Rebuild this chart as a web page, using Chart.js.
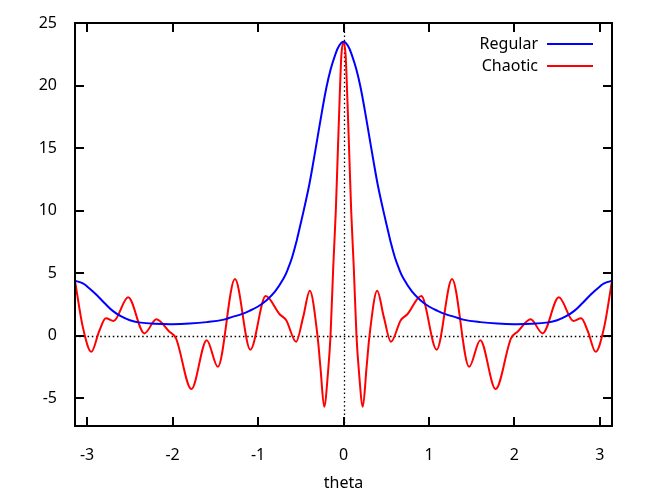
<!DOCTYPE html>
<html>
<head>
<meta charset="utf-8">
<script src="https://cdn.jsdelivr.net/npm/chart.js@4.4.0/dist/chart.umd.min.js"></script>
<style>
  html, body { margin: 0; padding: 0; background: #fff; }
  canvas { display: block; }
</style>
</head>
<body>
<canvas id="myChart" width="664" height="498"></canvas>
<script>
// Valores
var regularTheta = [-3.1416, -3.05, -3.0, -2.9, -2.8, -2.7, -2.6, -2.5, -2.4, -2.2, -2.0, -1.8, -1.6, -1.4, -1.3, -1.2, -1.1, -1.0, -0.9, -0.8, -0.7, -0.65, -0.6, -0.55, -0.5, -0.45, -0.4, -0.35, -0.3, -0.25, -0.2, -0.15, -0.1, -0.05, 0,
                    0.05, 0.1, 0.15, 0.2, 0.25, 0.3, 0.35, 0.4, 0.45, 0.5, 0.55, 0.6, 0.65, 0.7, 0.8, 0.9, 1.0, 1.1, 1.2, 1.3, 1.4, 1.6, 1.8, 2.0, 2.2, 2.4, 2.5, 2.6, 2.7, 2.8, 2.9, 3.0, 3.05, 3.1416];
var regularValue = [4.4, 4.2, 3.95, 3.35, 2.65, 2.0, 1.55, 1.25, 1.08, 0.96, 0.93, 0.98, 1.1, 1.3, 1.52, 1.72, 2.0, 2.35, 2.85, 3.55, 4.6, 5.35, 6.3, 7.55, 9.0, 10.5, 12.1, 14.0, 16.0, 18.0, 19.85, 21.3, 22.4, 23.2, 23.5,
                    23.2, 22.4, 21.3, 19.85, 18.0, 16.0, 14.0, 12.1, 10.5, 9.0, 7.55, 6.3, 5.35, 4.6, 3.55, 2.85, 2.35, 2.0, 1.72, 1.52, 1.3, 1.1, 0.98, 0.93, 0.96, 1.08, 1.25, 1.55, 2.0, 2.65, 3.35, 3.95, 4.2, 4.4];

var chaoticTheta = [-3.1416, -3.05, -2.95, -2.86, -2.78, -2.69, -2.52, -2.33, -2.19, -2.04, -1.96, -1.78, -1.6, -1.47, -1.27, -1.09, -0.91, -0.75, -0.67, -0.555, -0.472, -0.394, -0.304, -0.27, -0.226, -0.18, -0.152, -0.12, -0.09, -0.065, -0.045, -0.025, 0,
                    0.025, 0.045, 0.065, 0.09, 0.12, 0.152, 0.18, 0.226, 0.27, 0.304, 0.394, 0.472, 0.555, 0.67, 0.75, 0.91, 1.09, 1.27, 1.47, 1.6, 1.78, 1.96, 2.04, 2.19, 2.33, 2.52, 2.69, 2.78, 2.86, 2.95, 3.05, 3.1416];
var chaoticValue = [4.4, 0.7, -1.27, 0.35, 1.4, 1.18, 3.08, 0.2, 1.32, 0.35, -0.2, -4.25, -0.34, -2.47, 4.54, -1.1, 3.18, 1.75, 1.25, -0.47, 1.5, 3.6, 0, -2.5, -5.66, -2.8, 0, 5.5, 10.0, 15.0, 19.0, 22.4, 23.5,
                    22.4, 19.0, 15.0, 10.0, 5.5, 0, -2.8, -5.66, -2.5, 0, 3.6, 1.5, -0.47, 1.25, 1.75, 3.18, -1.1, 4.54, -2.47, -0.34, -4.25, -0.2, 0.35, 1.32, 0.2, 3.08, 1.18, 1.4, 0.35, -1.27, 0.7, 4.4];

var xTicks = [-3, -2, -1, 0, 1, 2, 3];
var yTicks = [-5, 0, 5, 10, 15, 20, 25];

var FONT = '"Noto Sans", "Open Sans", sans-serif';

function pontos(xs, ys) {
  return xs.map(function (x, i) { return { x: x, y: ys[i] }; });
}

// Moldura estilo gnuplot: borda, ticks para dentro e eixos zero pontilhados
var moldura = {
  id: 'moldura',
  beforeDatasetsDraw: function (chart) {
    var ctx = chart.ctx, a = chart.chartArea;
    var sx = chart.scales.x, sy = chart.scales.y;
    ctx.save();
    ctx.strokeStyle = '#000';
    ctx.lineWidth = 1.3;
    ctx.setLineDash([1.5, 2.7]);
    var y0 = Math.round(sy.getPixelForValue(0)) + 0.5;
    var x0 = Math.round(sx.getPixelForValue(0)) + 0.5;
    ctx.beginPath();
    ctx.moveTo(a.left, y0); ctx.lineTo(a.right, y0);
    ctx.moveTo(x0, a.top); ctx.lineTo(x0, a.bottom);
    ctx.stroke();
    ctx.restore();
  },
  afterDatasetsDraw: function (chart) {
    var ctx = chart.ctx, a = chart.chartArea;
    var sx = chart.scales.x, sy = chart.scales.y;
    var len = 9;
    ctx.save();
    ctx.strokeStyle = '#000';
    ctx.lineWidth = 2;
    ctx.beginPath();
    xTicks.forEach(function (v) {
      var px = Math.round(sx.getPixelForValue(v));
      ctx.moveTo(px, a.bottom); ctx.lineTo(px, a.bottom - len);
      ctx.moveTo(px, a.top); ctx.lineTo(px, a.top + len);
    });
    yTicks.forEach(function (v) {
      var py = Math.round(sy.getPixelForValue(v));
      ctx.moveTo(a.left, py); ctx.lineTo(a.left + len, py);
      ctx.moveTo(a.right, py); ctx.lineTo(a.right - len, py);
    });
    ctx.stroke();
    ctx.strokeRect(Math.round(a.left), Math.round(a.top), Math.round(a.right - a.left), Math.round(a.bottom - a.top));

    // Legenda no canto superior direito
    ctx.font = '16px ' + FONT;
    ctx.textAlign = 'right';
    ctx.textBaseline = 'middle';
    chart.data.datasets.forEach(function (ds, i) {
      var ly = a.top + 21 + i * 22;
      ctx.fillStyle = '#000';
      ctx.fillText(ds.label, a.right - 74, ly);
      ctx.strokeStyle = ds.borderColor;
      ctx.lineWidth = 2;
      ctx.beginPath();
      ctx.moveTo(a.right - 65, ly); ctx.lineTo(a.right - 19, ly);
      ctx.stroke();
    });
    ctx.restore();
  }
};

var ctx = document.getElementById('myChart');
var grafico = new Chart(ctx, {
  type: 'line',
  data: {
    datasets: [
      {
        label: 'Regular',
        data: pontos(regularTheta, regularValue),
        borderColor: '#0000ff',
        borderWidth: 2,
        pointRadius: 0,
        fill: false,
        tension: 0.4
      },
      {
        label: 'Chaotic',
        data: pontos(chaoticTheta, chaoticValue),
        borderColor: '#ff0000',
        borderWidth: 2,
        pointRadius: 0,
        fill: false,
        cubicInterpolationMode: 'monotone'
      }
    ]
  },
  options: {
    responsive: false,
    animation: false,
    devicePixelRatio: 1,
    layout: { padding: { top: 23, right: 52, left: 0, bottom: 0 } },
    plugins: {
      legend: { display: false },
      tooltip: { enabled: false }
    },
    scales: {
      x: {
        type: 'linear',
        min: -Math.PI,
        max: Math.PI,
        grid: { display: false },
        border: { display: false },
        afterBuildTicks: function (scale) {
          scale.ticks = xTicks.map(function (v) { return { value: v }; });
        },
        afterFit: function (scale) { scale.height = 72; },
        ticks: {
          color: '#000',
          padding: 12,
          maxRotation: 0,
          font: { family: FONT, size: 16 }
        },
        title: {
          display: true,
          text: 'theta',
          color: '#000',
          font: { family: FONT, size: 16 },
          padding: { top: 4, bottom: 5 }
        }
      },
      y: {
        type: 'linear',
        min: -7.2,
        max: 25,
        grid: { display: false },
        border: { display: false },
        afterBuildTicks: function (scale) {
          scale.ticks = yTicks.map(function (v) { return { value: v }; });
        },
        afterFit: function (scale) { scale.width = 75; },
        ticks: {
          color: '#000',
          padding: 10,
          font: { family: FONT, size: 16 }
        }
      }
    }
  },
  plugins: [moldura]
});
</script>
</body>
</html>
